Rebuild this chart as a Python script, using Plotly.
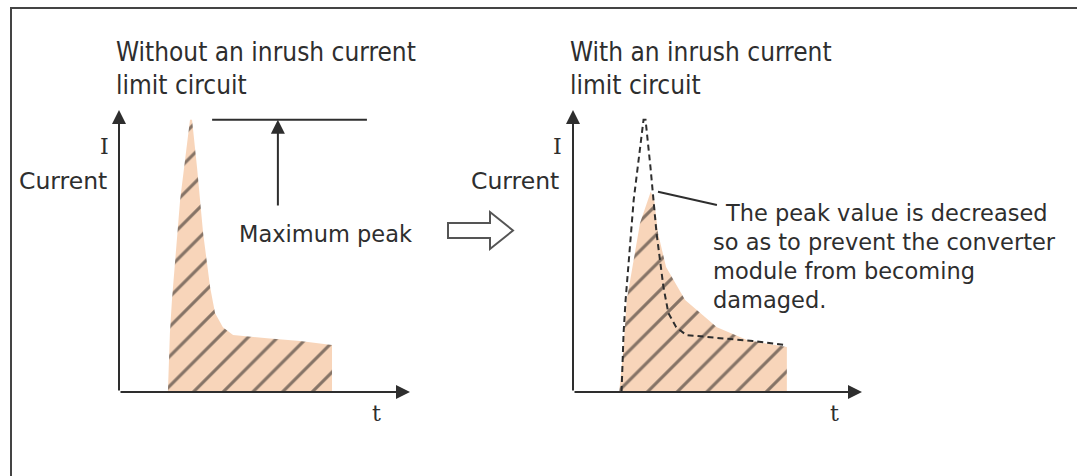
import plotly.graph_objects as go

W, H = 1077, 476

# ---------------- data (t, I) ----------------
# waveform without an inrush current limit circuit
t_nolimit = [1.68, 1.75, 1.82, 2.10, 2.44, 2.51, 2.68, 2.89, 3.13, 3.30, 3.57, 3.92, 5.09, 6.22, 7.32]
i_nolimit = [0.00, 2.09, 3.26, 6.81, 9.65, 9.65, 7.98, 5.64, 3.72, 2.80, 2.30, 2.02, 1.91, 1.81, 1.67]

# waveform with an inrush current limit circuit
t_limit = [1.60, 1.74, 1.86, 2.09, 2.32, 2.69, 2.81, 2.94, 3.22, 3.88, 4.98, 6.02, 7.27, 7.40]
i_limit = [0.00, 1.49, 3.26, 4.68, 5.99, 7.10, 6.81, 5.64, 4.43, 3.26, 2.30, 1.84, 1.60, 1.60]

# text
title_left = ["Without an inrush current", "limit circuit"]
title_right = ["With an inrush current", "limit circuit"]
peak_note = ["The peak value is decreased", "so as to prevent the converter",
             "module from becoming", "damaged."]
y_label = "Current"
y_symbol = "I"
x_symbol = "t"
max_label = "Maximum peak"

# ---------------- styles ----------------
INK = "#2e2e2e"
PEACH = "#f8d5ba"
BODY = dict(family="DejaVu Sans", size=22.5, color=INK)
TITLE = dict(family="DejaVu Sans Condensed, DejaVu Sans", size=26, color=INK)
SYM = dict(family="DejaVu Serif", size=22, color=INK)


def px(x):
    return x / W


def py(y):
    return 1 - y / H


fig = go.Figure()

pattern = dict(shape="/", fgcolor="#111111", bgcolor=PEACH, size=21, solidity=0.15)

# left: filled waveform
fig.add_trace(go.Scatter(
    x=t_nolimit + [t_nolimit[-1]], y=i_nolimit + [0],
    fill="toself", fillcolor=PEACH, fillpattern=pattern,
    mode="lines", line=dict(width=0, color="rgba(0,0,0,0)"),
    hoverinfo="skip", xaxis="x", yaxis="y", showlegend=False))

# left: maximum peak reference line
peak = max(i_nolimit)
fig.add_trace(go.Scatter(
    x=[3.2, 8.52], y=[peak, peak], mode="lines",
    line=dict(color=INK, width=2), hoverinfo="skip",
    xaxis="x", yaxis="y", showlegend=False))

# right: limited waveform filled
fig.add_trace(go.Scatter(
    x=t_limit + [t_limit[-1]], y=i_limit + [0],
    fill="toself", fillcolor=PEACH, fillpattern=pattern,
    mode="lines", line=dict(width=0, color="rgba(0,0,0,0)"),
    hoverinfo="skip", xaxis="x2", yaxis="y2", showlegend=False))

# right: original waveform dashed
fig.add_trace(go.Scatter(
    x=t_nolimit, y=i_nolimit, mode="lines",
    line=dict(color=INK, width=2, dash="6px,4px"),
    hoverinfo="skip", xaxis="x2", yaxis="y2", showlegend=False))

ax_common = dict(range=[0, 10], visible=False, fixedrange=True)
fig.update_layout(
    width=W, height=H,
    margin=dict(l=0, r=0, t=0, b=0),
    paper_bgcolor="white", plot_bgcolor="white",
    xaxis=dict(domain=[px(119), px(410)], anchor="y", **ax_common),
    yaxis=dict(domain=[py(392), py(110)], anchor="x", **ax_common),
    xaxis2=dict(domain=[px(573), px(862)], anchor="y2", **ax_common),
    yaxis2=dict(domain=[py(392), py(110)], anchor="x2", **ax_common),
)

annotations = []
# axis arrows
for xr, yr in (("x", "y"), ("x2", "y2")):
    for (x, y) in ((10, 0), (0, 10)):
        annotations.append(dict(
            x=x, y=y, ax=0, ay=0, xref=xr, yref=yr, axref=xr, ayref=yr,
            text="", showarrow=True, arrowhead=2, arrowsize=1.4,
            arrowwidth=2, arrowcolor=INK, standoff=0))

# maximum peak arrow
annotations.append(dict(
    x=5.46, y=peak, ax=5.46, ay=6.56, xref="x", yref="y", axref="x", ayref="y",
    text="", showarrow=True, arrowhead=2, arrowsize=1.4, arrowwidth=2,
    arrowcolor=INK, standoff=0))


def label(text, x, y, font, xanchor="left"):
    annotations.append(dict(
        text=text, x=px(x), y=py(y), xref="paper", yref="paper",
        xanchor=xanchor, yanchor="middle", showarrow=False, font=font))


label(title_left[0], 114, 52, TITLE)
label(title_left[1], 114, 85, TITLE)
label(title_right[0], 568, 52, TITLE)
label(title_right[1], 568, 85, TITLE)

label(y_symbol, 104, 146, SYM, "center")
label(y_label, 109, 181, dict(BODY, size=23.5), "right")
label(y_symbol, 557, 146, SYM, "center")
label(y_label, 561, 181, dict(BODY, size=23.5), "right")
label(x_symbol, 376, 413, SYM, "center")
label(x_symbol, 834, 413, SYM, "center")

label(max_label, 237, 234, BODY)

for k, (line, xx) in enumerate(zip(peak_note, [723, 711, 711, 711])):
    label(line, xx, 213 + 29 * k, BODY)

fig.update_layout(annotations=annotations)

# leader line from the limited peak to the note
ip = i_limit.index(max(i_limit))
shapes = [
    dict(type="line", xref="x2", yref="y2",
         x0=t_limit[ip] + 0.25, y0=i_limit[ip], x1=4.98, y1=6.63,
         line=dict(color=INK, width=2)),
]

# hollow block arrow between the panels
bx = [448, 490, 490, 513, 490, 490, 448]
by = [223, 223, 212, 230.5, 249, 238, 238]
path = "M " + " L ".join(f"{px(a):.5f},{py(b):.5f}" for a, b in zip(bx, by)) + " Z"
shapes.append(dict(type="path", xref="paper", yref="paper", path=path,
                   fillcolor="white", line=dict(color="#555555", width=2)))

# outer frame
shapes.append(dict(type="rect", xref="paper", yref="paper",
                   x0=px(11), y0=-0.05, x1=1.05, y1=py(8),
                   line=dict(color="#444444", width=2), fillcolor="rgba(0,0,0,0)"))

fig.update_layout(shapes=shapes)

fig.write_html("out.html",
               config={"displayModeBar": False},
               post_script="document.body.style.margin='0px';"
                           "document.body.style.overflow='hidden';")
